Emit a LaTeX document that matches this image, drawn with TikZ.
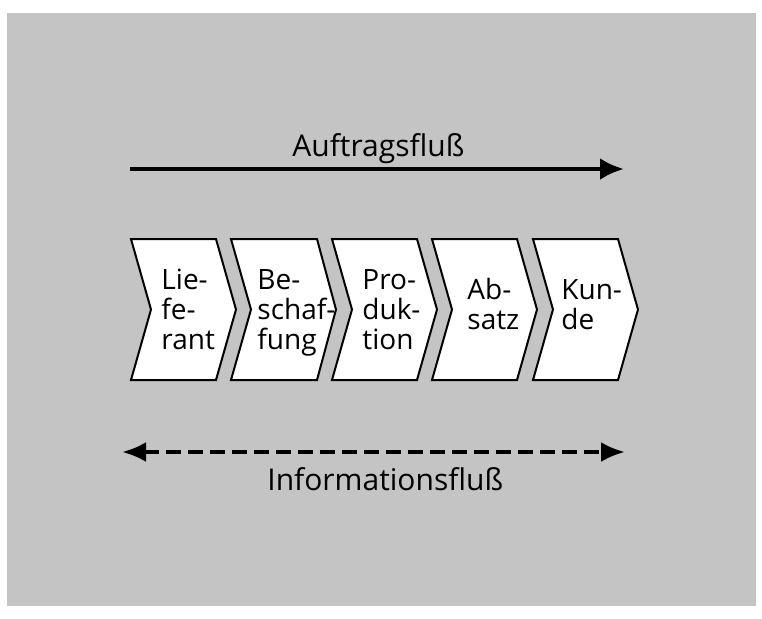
\documentclass[tikz,border=0pt]{standalone}
\usepackage{fontspec}
\setmainfont{Open Sans}
\usetikzlibrary{arrows.meta}
\begin{document}
\begin{tikzpicture}[x=0.5pt,y=-0.5pt,
  chev/.style={fill=white, draw=black, line width=1pt, line join=miter},
  chevtext/.style={anchor=south west, align=left, font=\fontsize{14}{15}\selectfont,
    inner sep=0pt, text depth=0pt},
  flowlabel/.style={anchor=base west, font=\fontsize{15}{16}\selectfont, inner sep=0pt},
  flowline/.style={line width=2.2pt, -{Latex[length=12pt,width=11pt]}},
  infoline/.style={line width=2pt, dash pattern=on 7.5pt off 3.5pt,
    {Latex[length=12pt,width=10pt]}-{Latex[length=12pt,width=10pt]}}]
\useasboundingbox (0,0) rectangle (762,618);
\fill[black!23] (7,13) rectangle (756,606);
% Auftragsfluss
\coordinate (auftragStart) at (130,169);
\coordinate (auftragEnd) at (624,169);
\draw[flowline] (auftragStart) -- (auftragEnd);
\node[flowlabel] (auftrag) at (292,156) {Auftragsfluß};
% Kette
\draw[chev] (131,239) -- (216,239) -- (236,309.5) -- (216,380) -- (131,380) -- (151,309.5) -- cycle;
\draw[chev] (231,239) -- (317,239) -- (336,309.5) -- (317,380) -- (231,380) -- (251,309.5) -- cycle;
\draw[chev] (332,239) -- (417,239) -- (437,309.5) -- (417,380) -- (332,380) -- (352,309.5) -- cycle;
\draw[chev] (432,239) -- (517,239) -- (537,309.5) -- (517,380) -- (432,380) -- (452,309.5) -- cycle;
\draw[chev] (533,239) -- (618,239) -- (638,309.5) -- (618,380) -- (533,380) -- (553,309.5) -- cycle;
\node[chevtext] (lieferant) at (161,350) {Lie-\\fe-\\rant};
\node[chevtext] (beschaffung) at (257,350) {Be-\\schaf-\\fung};
\node[chevtext] (produktion) at (362,350) {Pro-\\duk-\\tion};
\node[chevtext] (absatz) at (467,330) {Ab-\\satz};
\node[chevtext] (kunde) at (561,330) {Kun-\\de};
% Informationsfluss
\coordinate (infoStart) at (122,452);
\coordinate (infoEnd) at (625,452);
\draw[infoline] (infoStart) -- (infoEnd);
\node[flowlabel] (info) at (267,490) {Informationsfluß};
\end{tikzpicture}
\end{document}
